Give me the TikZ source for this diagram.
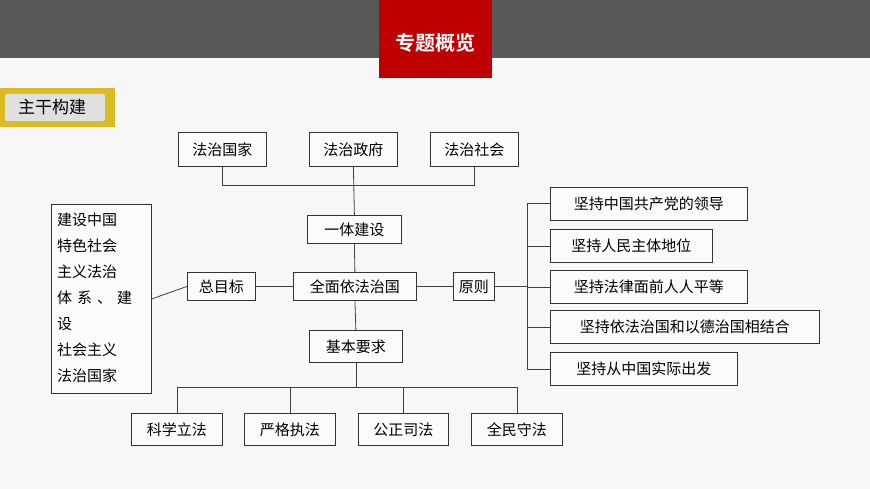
\documentclass[tikz,border=0pt]{standalone}
\usepackage{fontspec}
\setmainfont{Noto Sans CJK SC}
\newfontfamily\cjkb{Noto Sans CJK SC Bold}
\begin{document}
\begin{tikzpicture}[x=1pt,y=-1pt,
  bx/.style={draw=black!80,line width=0.8pt,fill=white!97!gray,font=\fontsize{15}{18}\selectfont,inner sep=0pt,anchor=north west},
  ln/.style={draw=black!75,line width=0.8pt}]
\fill[black!3] (0,0) rectangle (870,489);
\useasboundingbox (0,0) rectangle (870,489);
\fill[black!65] (0,0) rectangle (870,58);
\fill[red!75!black] (379,0) rectangle (492,78);
\node[text=white,font=\cjkb\fontsize{20}{24}\selectfont] (title) at (435.5,43) {专题概览};
\fill[yellow!70!orange!85!black] (0,88) rectangle (115,127);
\fill[black!12,rounded corners=2pt] (5,94) rectangle (105,121);
\node[font=\fontsize{17}{20}\selectfont] (lbl) at (52,107.5) {主干构建};
% boxes: name, x1, x2, y1, y2, text
\newcommand{\bxat}[6]{\node[bx,minimum width=#3pt-#2pt,minimum height=#5pt-#4pt] (#1) at (#2,#4) {#6};}
\bxat{gj}{178}{266}{132}{166}{法治国家}
\bxat{zf}{309}{397}{132}{166}{法治政府}
\bxat{sh}{430}{518}{132}{166}{法治社会}
\bxat{yt}{307}{401}{215}{243}{一体建设}
\bxat{qm}{293}{416}{272}{300}{全面依法治国}
\bxat{zm}{187}{255}{272}{300}{总目标}
\bxat{yz}{453}{494}{272}{300}{原则}
\bxat{jb}{309}{402}{330}{362}{基本要求}
\bxat{k1}{131}{222}{413}{445}{科学立法}
\bxat{k2}{244}{335}{413}{445}{严格执法}
\bxat{k3}{358}{448}{413}{445}{公正司法}
\bxat{k4}{471}{562}{413}{445}{全民守法}
\bxat{p1}{550}{747}{187}{220}{坚持中国共产党的领导}
\bxat{p2}{550}{712}{229}{262}{坚持人民主体地位}
\bxat{p3}{550}{747}{270}{303}{坚持法律面前人人平等}
\bxat{p4}{550}{819}{310}{343}{坚持依法治国和以德治国相结合}
\bxat{p5}{550}{737}{352}{385}{坚持从中国实际出发}
\node[bx,minimum width=100pt,minimum height=189pt] (lb) at (51,204) {};
\node[anchor=north west,align=left,font=\fontsize{15}{26}\selectfont,inner sep=0pt] (lbt) at (57,213) {建设中国\\特色社会\\主义法治\\体\,\,系\,\,、\,\,建\\设\\社会主义\\法治国家};
% connectors
\coordinate (t) at (yt.north |- 0,185);
\draw[ln] (gj.south) -- (gj.south |- t) -- (sh.south |- t) -- (sh.south);
\draw[ln] (zf.south) -- (yt.north);
\draw[ln] (yt.south) -- (qm.north);
\draw[ln] (qm.south) -- (jb.north);
\draw[ln] (zm.east) -- (qm.west);
\draw[ln] (lb.east) -- (zm.west);
\draw[ln] (qm.east) -- (yz.west);
\coordinate (b) at (jb.south |- 0,387);
\draw[ln] (jb.south) -- (b);
\draw[ln] (k1.north) -- (k1.north |- b) -- (k4.north |- b) -- (k4.north);
\draw[ln] (k2.north) -- (k2.north |- b);
\draw[ln] (k3.north) -- (k3.north |- b);
\coordinate (v) at (527,0);
\draw[ln] (yz.east) -- (yz.east -| v);
\draw[ln] (p1.west) -- (p1.west -| v) -- (p5.west -| v) -- (p5.west);
\foreach \p in {p2,p3,p4} \draw[ln] (\p.west) -- (\p.west -| v);
\end{tikzpicture}
\end{document}
